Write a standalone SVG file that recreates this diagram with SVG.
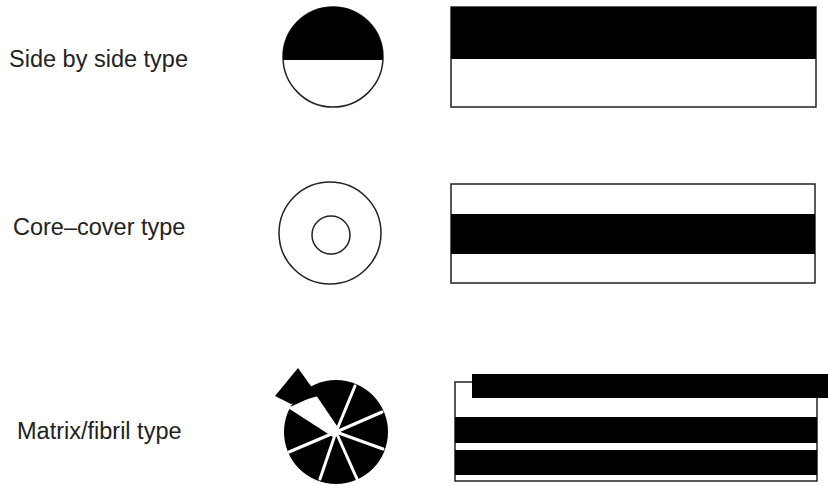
<svg xmlns="http://www.w3.org/2000/svg" width="828" height="485" viewBox="0 0 828 485">
<style>
.lbl{font-family:"Liberation Sans",Arial,sans-serif;font-size:23.5px;fill:#222}
.ol{fill:#fff;stroke:#222;stroke-width:1.5}
.blk{fill:#000}
.sp{stroke:#fff;stroke-width:3;stroke-linecap:round}
</style>
<rect width="828" height="485" fill="#fff"/>
<g id="side-by-side">
<text class="lbl" x="9" y="67">Side by side type</text>
<circle class="ol" cx="333" cy="57" r="50"/>
<path class="blk" d="M283.1,60 A50,50 0 1 1 382.9,60 Z"/>
<rect class="ol" x="451" y="7" width="365" height="100"/>
<rect class="blk" x="451" y="7" width="365" height="52"/>
</g>
<g id="core-cover">
<text class="lbl" x="13" y="235">Core–cover type</text>
<circle class="ol" cx="330" cy="233" r="51"/>
<circle class="ol" cx="331" cy="235" r="19"/>
<rect class="ol" x="451" y="184" width="364" height="99"/>
<rect class="blk" x="451" y="214" width="364" height="40"/>
</g>
<g id="matrix-fibril">
<text class="lbl" x="17" y="439">Matrix/fibril type</text>
<circle class="blk" cx="336" cy="432" r="52"/>
<g class="sp">
<line x1="336" y1="432" x2="355" y2="386"/>
<line x1="336" y1="432" x2="382" y2="412"/>
<line x1="336" y1="432" x2="383" y2="449"/>
<line x1="336" y1="432" x2="357" y2="479"/>
<line x1="336" y1="432" x2="320" y2="479"/>
<line x1="336" y1="432" x2="289" y2="452"/>
</g>
<polygon fill="#fff" points="339,429 316,395 288,408 333,437"/>
<polygon class="blk" points="298,368 275,396 291,404 318,396"/>
<rect class="ol" x="455" y="382" width="362" height="99"/>
<rect class="blk" x="472" y="374" width="360" height="24"/>
<rect class="blk" x="455" y="417" width="362" height="26"/>
<rect class="blk" x="455" y="450" width="362" height="25"/>
</g>
</svg>
